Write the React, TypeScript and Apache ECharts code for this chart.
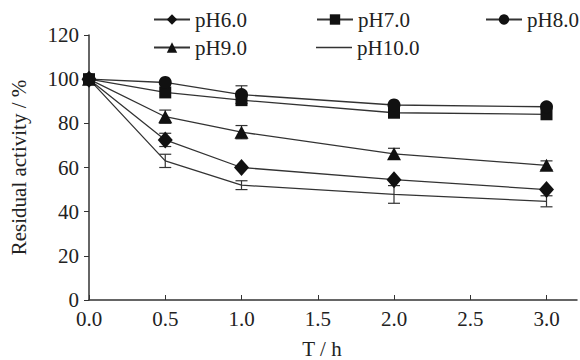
import React, { useEffect, useRef } from "react";
import * as echarts from "echarts";

const timeHours = [0, 0.5, 1, 2, 3];
const xTickValues = [0, 0.5, 1, 1.5, 2, 2.5, 3];

const seriesNames = ["pH6.0", "pH7.0", "pH8.0", "pH9.0", "pH10.0"];
const pH6 = [100, 72.5, 60, 54.5, 50];
const pH7 = [100, 94, 90.5, 84.8, 84.1];
const pH8 = [100, 98.5, 93, 88.3, 87.5];
const pH9 = [100, 83, 76, 66.2, 61];
const pH10 = [100, 63, 52, 47.8, 44.7];

const err6 = [0, 3, 0, 0, 0];
const err7 = [0, 0, 0, 0, 0];
const err8 = [0, 0, 4, 0, 0];
const err9 = [0, 3, 3, 2.5, 2];
const err10 = [0, 3, 2, 4, 2.5];

const FONT = "'Liberation Serif', 'Times New Roman', serif";
const INK = "#222";

export default function App() {
  const ref = useRef<HTMLDivElement>(null);
  useEffect(() => {
    document.body.style.margin = "0";
    if (!ref.current) return;
    const chart = echarts.init(ref.current, null, { renderer: "svg" });

    const values = [pH6, pH7, pH8, pH9, pH10];
    const errs = [err6, err7, err8, err9, err10];
    const symbols = ["diamond", "rect", "circle", "triangle", "none"];
    const sizes: any[] = [[15, 17], 12, 13, [14, 13], 0];

    const lineSeries = seriesNames.map((name, i) => ({
      name,
      type: "line",
      data: timeHours.map((t, j) => [t, values[i][j]]),
      symbol: symbols[i],
      symbolSize: sizes[i],
      showSymbol: symbols[i] !== "none",
      lineStyle: { color: "#333", width: 1.3 },
      itemStyle: { color: "#111" },
      z: 3,
    }));

    const errData: number[][] = [];
    values.forEach((vals, i) => {
      vals.forEach((v, j) => {
        if (errs[i][j] > 0) errData.push([timeHours[j], v - errs[i][j], v + errs[i][j]]);
      });
    });

    const errSeries = {
      type: "custom",
      data: errData,
      z: 2,
      silent: true,
      renderItem: (params: any, api: any) => {
        const x = api.value(0);
        const lo = api.coord([x, api.value(1)]);
        const hi = api.coord([x, api.value(2)]);
        const w = 6;
        const style = { stroke: "#333", lineWidth: 1.2 };
        return {
          type: "group",
          children: [
            { type: "line", shape: { x1: lo[0], y1: lo[1], x2: hi[0], y2: hi[1] }, style },
            { type: "line", shape: { x1: lo[0] - w, y1: lo[1], x2: lo[0] + w, y2: lo[1] }, style },
            { type: "line", shape: { x1: hi[0] - w, y1: hi[1], x2: hi[0] + w, y2: hi[1] }, style },
          ],
        };
      },
    };

    const legendPos = [
      { left: 153, top: 9 },
      { left: 316, top: 9 },
      { left: 485, top: 9 },
      { left: 153, top: 37 },
      { left: 316, top: 37 },
    ];

    const legends = seriesNames.map((name, i) => {
      const base: any = {
        data: [name],
        left: legendPos[i].left,
        top: legendPos[i].top,
        padding: 0,
        itemWidth: 36,
        itemHeight: 13,
        itemGap: 0,
        textStyle: { fontFamily: FONT, fontSize: 21, color: INK },
      };
      if (symbols[i] === "none") {
        base.data = [{ name, icon: "rect", itemStyle: { color: "#333" } }];
        base.itemHeight = 1.4;
      }
      return base;
    });

    chart.setOption({
      animation: false,
      backgroundColor: "#fff",
      legend: legends,
      grid: { left: 89, right: 3, top: 35, bottom: 60, outerBoundsMode: "none" },
      xAxis: {
        type: "value",
        min: 0,
        max: 3.2,
        interval: 0.5,
        name: "T / h",
        nameLocation: "middle",
        nameGap: 38,
        nameTextStyle: { fontFamily: FONT, fontSize: 21, color: INK, padding: [0, 22, 0, 0] },
        axisLine: { lineStyle: { color: "#333", width: 1.5 } },
        axisTick: { inside: true, length: 5, lineStyle: { color: "#333" }, customValues: xTickValues },
        axisLabel: {
          customValues: xTickValues,
          formatter: (v: number) => v.toFixed(1),
          fontFamily: FONT,
          fontSize: 21,
          color: INK,
          margin: 8,
        },
        splitLine: { show: false },
      },
      yAxis: {
        type: "value",
        min: 0,
        max: 120,
        interval: 20,
        name: "Residual activity / %",
        nameLocation: "middle",
        nameGap: 60,
        nameTextStyle: { fontFamily: FONT, fontSize: 21, color: INK },
        axisLine: { show: true, lineStyle: { color: "#333", width: 1.5 } },
        axisTick: { show: true, inside: false, length: 5, lineStyle: { color: "#333" } },
        axisLabel: { fontFamily: FONT, fontSize: 21, color: INK, margin: 10 },
        splitLine: { show: false },
      },
      series: [...lineSeries, errSeries],
    });

    return () => chart.dispose();
  }, []);

  return <div ref={ref} style={{ width: 580, height: 360 }} />;
}
